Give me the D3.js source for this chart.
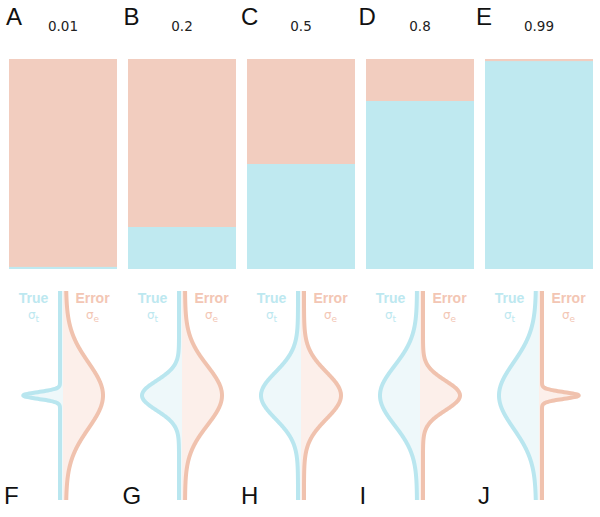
<!DOCTYPE html>
<html><head><meta charset="utf-8">
<script src="https://cdn.jsdelivr.net/npm/d3@7"></script>
<style>body{margin:0;background:#fff}svg{display:block}</style>
</head><body>
<svg id="c" width="600" height="517"></svg>
<script>
const topLetters = ["A","B","C","D","E"];
const bottomLetters = ["F","G","H","I","J"];
const reliabilityLabels = ["0.01","0.2","0.5","0.8","0.99"];
const trueVariance = [0.01, 0.2, 0.5, 0.8, 0.99];
const errorVariance = [0.99, 0.8, 0.5, 0.2, 0.01];

const colTrueBar = "#bfe9f0", colErrBar = "#f2cdbf";
const colTrueLine = "#b9e6ef", colErrLine = "#f0c2ae";
const colTrueFill = "#eef8fa", colErrFill = "#fcefea";
const colTrueText = "#bde8f0", colErrText = "#f3c6b4";

const svg = d3.select("#c");
const step = 119, barW = 108, x0 = 9;
const yBar = d3.scaleLinear().domain([0,1]).range([269, 59]);
const yZ = d3.scaleLinear().domain([-3.15, 3.15]).range([291, 500]);
const amp = d3.scaleLinear().domain([0,1]).range([0, 37]);
const zs = d3.range(-3.15, 3.1501, 0.02);

trueVariance.forEach((tv, i) => {
  const left = x0 + i*step, cx = left + barW/2;
  const g = svg.append("g");
  g.append("rect").attr("x", left).attr("y", yBar(1)).attr("width", barW)
    .attr("height", yBar(0)-yBar(1)).attr("fill", colErrBar);
  g.append("rect").attr("x", left).attr("y", yBar(tv)).attr("width", barW)
    .attr("height", yBar(0)-yBar(tv)).attr("fill", colTrueBar);
  g.append("text").attr("x", 6 + i*117.5).attr("y", 25).attr("font-family","Liberation Sans, Arial, sans-serif")
    .attr("font-size", 24).attr("fill","#111").text(topLetters[i]);
  g.append("text").attr("x", cx).attr("y", 31).attr("text-anchor","middle")
    .attr("font-family","DejaVu Sans, sans-serif").attr("font-size", 13.5).attr("fill","#222").text(reliabilityLabels[i]);
  g.append("text").attr("x", 4 + i*118.5).attr("y", 504).attr("font-family","Liberation Sans, Arial, sans-serif")
    .attr("font-size", 24).attr("fill","#111").text(bottomLetters[i]);

  const ev = errorVariance[i];
  const dens = (z, v) => Math.exp(-z*z/(2*v));
  const bx = cx - 3, ox = cx + 3;
  const trueArea = d3.area().y(z => yZ(z)).x0(cx).x1(z => bx - amp(dens(z, tv))).curve(d3.curveBasis);
  const errArea = d3.area().y(z => yZ(z)).x0(cx).x1(z => ox + amp(dens(z, ev))).curve(d3.curveBasis);
  const trueLine = d3.line().y(z => yZ(z)).x(z => bx - amp(dens(z, tv))).curve(d3.curveBasis);
  const errLine = d3.line().y(z => yZ(z)).x(z => ox + amp(dens(z, ev))).curve(d3.curveBasis);
  g.append("path").attr("d", trueArea(zs)).attr("fill", colTrueFill);
  g.append("path").attr("d", errArea(zs)).attr("fill", colErrFill);
  g.append("path").attr("d", trueLine(zs)).attr("fill","none").attr("stroke", colTrueLine).attr("stroke-width", 4);
  g.append("path").attr("d", errLine(zs)).attr("fill","none").attr("stroke", colErrLine).attr("stroke-width", 4);

  g.append("text").attr("x", cx - 29.5).attr("y", 303).attr("text-anchor","middle")
    .attr("font-family","Liberation Sans, Arial, sans-serif").attr("font-weight","bold").attr("font-size", 14)
    .attr("fill", colTrueText).text("True");
  g.append("text").attr("x", cx + 29.5).attr("y", 303).attr("text-anchor","middle")
    .attr("font-family","Liberation Sans, Arial, sans-serif").attr("font-weight","bold").attr("font-size", 14)
    .attr("fill", colErrText).text("Error");
  const st = g.append("text").attr("x", cx - 29.5).attr("y", 319).attr("text-anchor","middle")
    .attr("font-family","DejaVu Sans, sans-serif").attr("font-size", 12).attr("fill", colTrueText);
  st.append("tspan").text("σ");
  st.append("tspan").attr("font-size", 9).attr("dy", 3).text("t");
  const se = g.append("text").attr("x", cx + 29.5).attr("y", 319).attr("text-anchor","middle")
    .attr("font-family","DejaVu Sans, sans-serif").attr("font-size", 12).attr("fill", colErrText);
  se.append("tspan").text("σ");
  se.append("tspan").attr("font-size", 9).attr("dy", 3).text("e");
});
</script>
</body></html>
